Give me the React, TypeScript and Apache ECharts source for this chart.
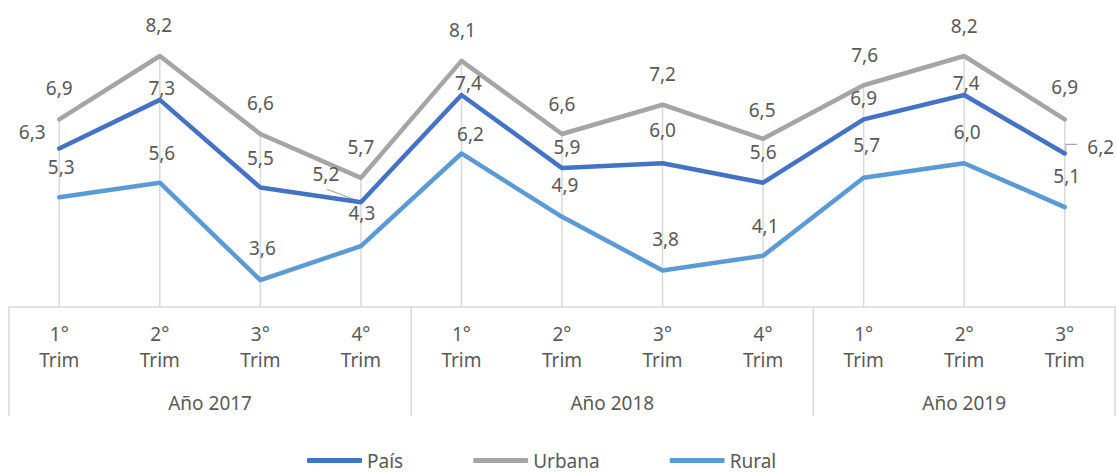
import React, { useEffect, useRef } from 'react';
import * as echarts from 'echarts';

// ---- data ----
const quarterTicks = ['1°\nTrim', '2°\nTrim', '3°\nTrim', '4°\nTrim', '1°\nTrim', '2°\nTrim', '3°\nTrim', '4°\nTrim', '1°\nTrim', '2°\nTrim', '3°\nTrim'];
const yearLabels = ['Año 2017', 'Año 2018', 'Año 2019'];
const yearSpans = [4, 4, 3];
const seriesNames = ['País', 'Urbana', 'Rural'];
const pais = [6.3, 7.3, 5.5, 5.2, 7.4, 5.9, 6.0, 5.6, 6.9, 7.4, 6.2];
const urbana = [6.9, 8.2, 6.6, 5.7, 8.1, 6.6, 7.2, 6.5, 7.6, 8.2, 6.9];
const rural = [5.3, 5.6, 3.6, 4.3, 6.2, 4.9, 3.8, 4.1, 5.7, 6.0, 5.1];

// ---- layout config (label offsets relative to their point) ----
const paisLabelOffsets = [[-27, -17], [2, -12], [0, -30], [-35, -28], [7, -12], [5, -21], [0, -33], [0, -31], [0, -21], [2, -12], [36, -6]];
const urbanaLabelOffsets = [[0, -31], [-1, -31], [0, -31], [0, -31], [1, -31], [0, -30], [0, -31], [-1, -29], [1, -30], [0, -30], [0, -32]];
const ruralLabelOffsets = [[2, -30], [2, -30], [2, -32], [1, -33], [9, -19], [3, -32], [3, -31], [2, -30], [3, -33], [3, -31], [2, -31]];

const Y_MIN = 3.05;
const Y_MAX = 9;
const FONT = 'Noto Sans';
const TEXT = '#595959';
const GRID_LINE = '#D9D9D9';
const COLORS = ['#4472C4', '#A5A5A5', '#5B9BD5'];

const fmt = (v: number) => v.toFixed(1).replace('.', ',');

function lineSeries(name: string, values: number[], offsets: number[][], color: string) {
  return {
    type: 'line',
    name,
    z: 3,
    symbol: 'circle',
    symbolSize: 2,
    showSymbol: true,
    itemStyle: { color },
    lineStyle: { color, width: 4.5, cap: 'round', join: 'round' },
    label: {
      show: true,
      position: 'inside',
      color: TEXT,
      fontSize: 19,
      fontFamily: FONT,
      formatter: (p: any) => fmt(p.value),
    },
    data: values.map((v, i) => ({ value: v, label: { offset: offsets[i] } })),
  };
}

export default function App() {
  const ref = useRef<HTMLDivElement>(null);

  useEffect(() => {
    if (!ref.current) return;
    const chart = echarts.init(ref.current, undefined, { renderer: 'svg' });
    const maxima = pais.map((v, i) => Math.max(v, urbana[i], rural[i]));

    chart.setOption({
      animation: false,
      backgroundColor: '#ffffff',
      grid: { left: 9, right: 2, top: 17, bottom: 166 },
      legend: {
        data: seriesNames,
        left: 302,
        top: 446,
        itemWidth: 55,
        itemHeight: 5,
        itemGap: 70,
        icon: 'roundRect',
        textStyle: { color: TEXT, fontSize: 19, fontFamily: FONT },
      },
      xAxis: {
        type: 'category',
        boundaryGap: true,
        data: quarterTicks.map((_, i) => String(i)),
        axisLine: { onZero: false, lineStyle: { color: GRID_LINE, width: 1.5 } },
        axisTick: { show: false },
        splitLine: { show: false },
        axisLabel: {
          interval: 0,
          margin: 14,
          lineHeight: 26,
          fontSize: 19,
          fontFamily: FONT,
          color: TEXT,
          formatter: (_v: string, i: number) => quarterTicks[i],
        },
      },
      yAxis: {
        type: 'value',
        min: Y_MIN,
        max: Y_MAX,
        show: false,
        splitLine: { show: false },
      },
      series: [
        {
          type: 'custom',
          name: 'drop',
          z: 1,
          silent: true,
          data: maxima.map((v, i) => [i, v]),
          renderItem: (_params: any, api: any) => {
            const top = api.coord([api.value(0), api.value(1)]);
            const bottom = api.coord([api.value(0), Y_MIN]);
            return {
              type: 'line',
              shape: { x1: top[0], y1: top[1], x2: bottom[0], y2: bottom[1] },
              style: { stroke: GRID_LINE, lineWidth: 1.5 },
            };
          },
        },
        lineSeries(seriesNames[0], pais, paisLabelOffsets, COLORS[0]),
        lineSeries(seriesNames[1], urbana, urbanaLabelOffsets, COLORS[1]),
        lineSeries(seriesNames[2], rural, ruralLabelOffsets, COLORS[2]),
      ],
    });

    // multi-level axis: group separators and year labels, plus label leader lines
    const xAt = (i: number) => chart.convertToPixel({ xAxisIndex: 0 }, i) as number;
    const band = xAt(1) - xAt(0);
    const axisY = chart.convertToPixel({ yAxisIndex: 0 }, Y_MIN) as number;
    const boxBottom = 416;
    const graphics: any[] = [];
    let start = 0;
    const bounds: number[] = [xAt(0) - band / 2];
    yearSpans.forEach((n, k) => {
      const center = (xAt(start) + xAt(start + n - 1)) / 2;
      graphics.push({
        type: 'text',
        x: center,
        y: 403,
        style: { text: yearLabels[k], fill: TEXT, fontSize: 19, fontFamily: FONT, align: 'center', verticalAlign: 'middle' },
      });
      start += n;
      bounds.push(xAt(start - 1) + band / 2);
    });
    bounds.forEach((bx) => {
      graphics.push({
        type: 'line',
        shape: { x1: bx, y1: axisY, x2: bx, y2: boxBottom },
        style: { stroke: GRID_LINE, lineWidth: 1.5 },
      });
    });
    const pt = (i: number) => chart.convertToPixel({ seriesIndex: 1 }, [i, pais[i]]) as number[];
    const p3 = pt(3);
    graphics.push({
      type: 'line',
      shape: { x1: p3[0] - 34, y1: p3[1] - 13, x2: p3[0] - 2, y2: p3[1] - 1 },
      style: { stroke: '#A6A6A6', lineWidth: 1.2 },
    });
    const p10 = pt(10);
    graphics.push({
      type: 'polyline',
      shape: { points: [[p10[0] + 12, p10[1] - 9], [p10[0] + 1, p10[1] - 9], [p10[0] + 1, p10[1] - 2]] },
      style: { stroke: '#A6A6A6', lineWidth: 1.2, fill: null },
    });
    chart.setOption({ graphic: graphics });

    return () => chart.dispose();
  }, []);

  return <div ref={ref} style={{ position: 'fixed', left: 0, top: 0, width: 1117, height: 473 }} />;
}
